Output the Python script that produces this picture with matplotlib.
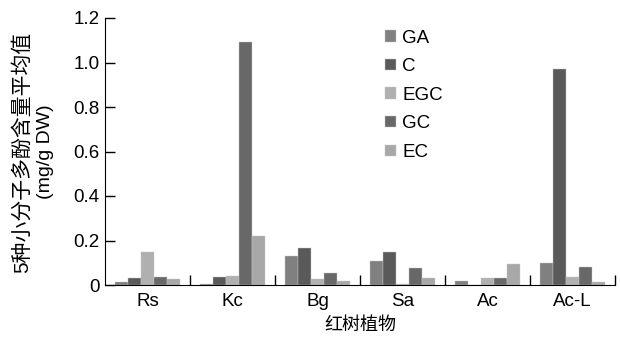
import matplotlib.pyplot as plt
import numpy as np
from matplotlib.ticker import FuncFormatter

plt.rcParams['font.family'] = ['Liberation Sans', 'Noto Sans CJK SC', 'DejaVu Sans']

species = ["Rs", "Kc", "Bg", "Sa", "Ac", "Ac-L"]
compounds = ["GA", "C", "EGC", "GC", "EC"]
ga = [0.015, 0.005, 0.13, 0.11, 0.02, 0.10]
c = [0.03, 0.035, 0.165, 0.15, 0.0, 0.97]
egc = [0.15, 0.04, 0.025, 0.004, 0.03, 0.035]
gc = [0.035, 1.09, 0.055, 0.075, 0.03, 0.08]
ec = [0.025, 0.22, 0.018, 0.03, 0.095, 0.012]
series = [ga, c, egc, gc, ec]
colors = ["#808080", "#5a5a5a", "#b0b0b0", "#686868", "#a8a8a8"]

fig = plt.figure(figsize=(6.2, 3.44), dpi=100)
ax = fig.add_axes([105 / 620, 1 - 285 / 344, 510 / 620, 267 / 344])

x = np.arange(len(species))
w = 0.153
for k, (vals, col) in enumerate(zip(series, colors)):
    ax.bar(x + (k - 2) * w, vals, w, color=col, edgecolor="#c8c8c8",
           linewidth=0.3, label=compounds[k])

ax.set_xlim(-0.5, 5.5)
ax.set_ylim(0, 1.2)
ax.set_yticks(np.arange(0, 1.21, 0.2))
ax.yaxis.set_major_formatter(FuncFormatter(lambda v, p: "0" if v == 0 else f"{v:.1f}"))
ax.set_xticks(np.arange(0.5, 6, 1))
ax.set_xticklabels([])
ax.set_xticks(x, minor=True)
ax.set_xticklabels(species, minor=True)
ax.tick_params(axis="x", which="major", direction="in", length=7, width=1)
ax.tick_params(axis="x", which="minor", length=0, pad=6, labelsize=13.5)
ax.tick_params(axis="y", direction="in", length=7, width=1, labelsize=13.5, pad=4)
for s in ["top", "right"]:
    ax.spines[s].set_visible(False)

ax.set_xlabel("红树植物", fontsize=13, labelpad=4,
              family=["Noto Sans CJK SC", "DejaVu Sans"])
ymid = 1 - 152 / 344
fig.text(22 / 620, ymid, "5种小分子多酚含量平均值", rotation=90, fontsize=15,
         ha="center", va="center")
fig.text(45 / 620, ymid, "(mg/g DW)", rotation=90, fontsize=14,
         ha="center", va="center")

ax.legend(loc="upper left", bbox_to_anchor=(0.535, 0.985), frameon=False,
          handlelength=0.55, handleheight=0.55, handletextpad=0.35,
          labelspacing=0.62, fontsize=13.5, borderaxespad=0)

fig.savefig("out.png", dpi=100)
